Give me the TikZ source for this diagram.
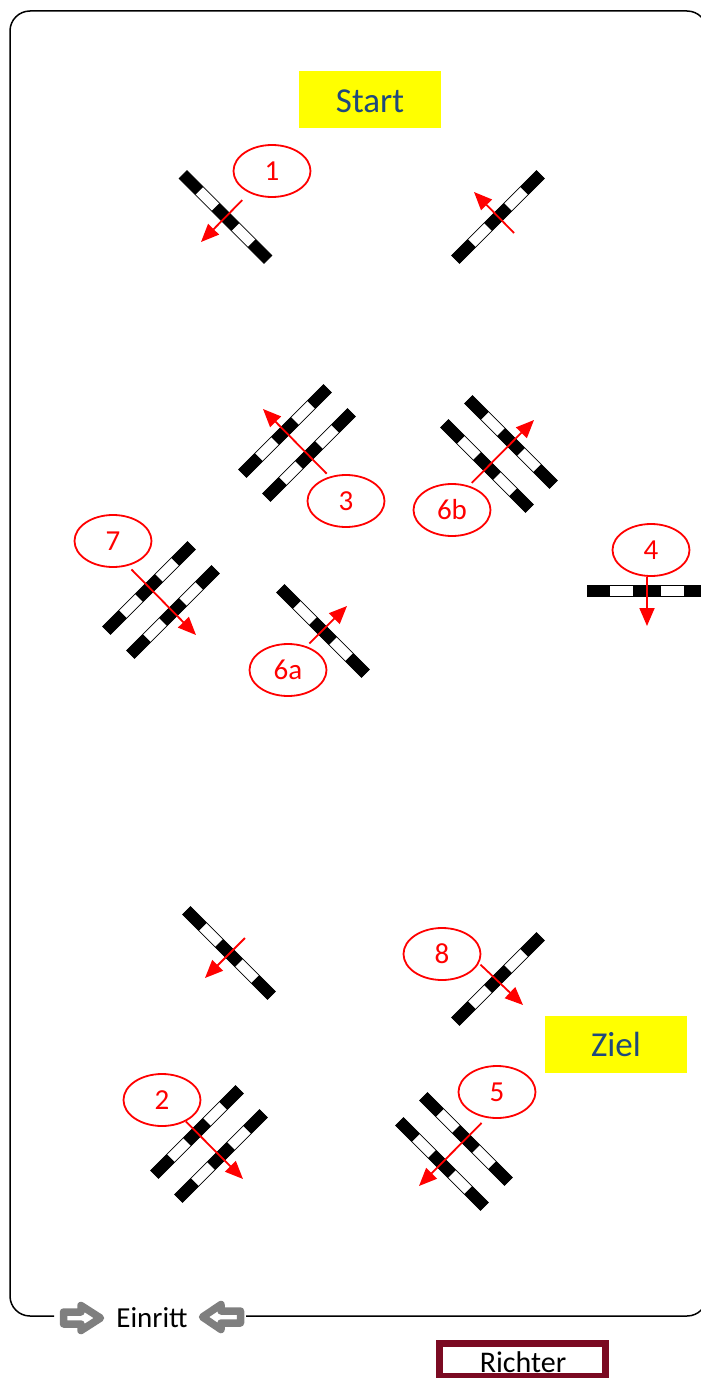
\documentclass[tikz,border=0pt]{standalone}
\usepackage{fontspec}
\setmainfont{Carlito}
\usetikzlibrary{shapes.geometric,arrows.meta}
\definecolor{titleblue}{HTML}{1F497D}
\definecolor{richterred}{HTML}{7B0A22}
\definecolor{arrowgrey}{HTML}{7F7F7F}
\definecolor{goalyellow}{RGB}{255,255,0}
\definecolor{markred}{RGB}{255,0,0}
\tikzset{
  num/.style={ellipse,draw=markred,line width=1.8pt,fill=white,minimum width=77pt,minimum height=52pt,inner sep=0pt,text=markred,font=\fontsize{29}{34}\selectfont},
  redarrow/.style={draw=markred,line width=1.8pt,-{Triangle[length=18pt,width=15pt]}},
  goal/.style={fill=goalyellow,minimum width=142pt,minimum height=57pt,inner sep=0pt,text=titleblue,font=\fontsize{35}{42}\selectfont},
  plain/.style={inner sep=0pt,font=\fontsize{29}{34}\selectfont,text=black},
  enclosure/.style={draw=black,line width=1.5pt,rounded corners=20pt},
  greyarrow/.style={draw=arrowgrey,fill=white,line width=7.5pt,line join=round},
  richterbox/.style={draw=richterred,fill=white,line width=6.5pt,minimum width=166pt,minimum height=33pt,inner sep=0pt}
}
% centre x, centre y (pixel coords), angle
\newcommand{\obstacle}[3]{%
  \begin{scope}[shift={(#1,#2)},rotate=#3]
    \fill[white] (-60pt,-5.5pt) rectangle (60pt,5.5pt);
    \draw[black,line width=.7pt] (-60pt,-5.5pt) rectangle (60pt,5.5pt);
    \fill[black] (-60pt,-5.5pt) rectangle (-37pt,5.5pt);
    \fill[black] (-14pt,-5.5pt) rectangle (14pt,5.5pt);
    \fill[black] (37pt,-5.5pt) rectangle (60pt,5.5pt);
  \end{scope}}
\begin{document}
\begin{tikzpicture}[x=1pt,y=-1pt]
\useasboundingbox (0,0) rectangle (701,1378);
\begin{scope}
\clip (0,0) rectangle (701,1378);
\coordinate (gapL) at (54,1316);
\coordinate (gapR) at (246,1316);
\draw[enclosure] (gapL) -- (10,1316) -- (10,11) -- (707,11) -- (707,1316) -- (gapR);

\node[goal] (start) at (370,99.5) {\rule{0pt}{26pt}Start};
\node[goal] (ziel) at (616,1044.5) {Ziel};

\obstacle{225.5}{217}{-45}
\obstacle{498}{217}{45}
\obstacle{285}{431}{45}
\obstacle{309}{455}{45}
\obstacle{487}{466}{-45}
\obstacle{511}{442}{-45}
\obstacle{149}{588}{45}
\obstacle{173}{612}{45}
\obstacle{323}{631}{-45}
\obstacle{647}{590.5}{0}
\obstacle{229}{953}{-45}
\obstacle{498}{979}{45}
\obstacle{197}{1132}{45}
\obstacle{221}{1156}{45}
\obstacle{466}{1139}{-45}
\obstacle{442}{1164}{-45}

\node[num] (n1) at (272,171) {1};
\node[num] (n3) at (346,501) {3};
\node[num] (n6b) at (452,510) {6b};
\node[num] (n7) at (113,541) {7};
\node[num] (n6a) at (288,670) {6a};
\node[num] (n4) at (651,550) {4};
\node[num] (n8) at (442,954) {8};
\node[num] (n2) at (162,1100) {2};
\node[num] (n5) at (497,1092) {5};

\coordinate (t1) at (201,242);
\coordinate (t3) at (263,409);
\coordinate (t6b) at (534,420);
\coordinate (t7) at (196,635);
\coordinate (t6a) at (347,606);
\coordinate (t4) at (647,626);
\coordinate (t8) at (523,1005);
\coordinate (t2) at (243,1179);
\coordinate (t5) at (419,1186);
\coordinate (s9) at (514,233);
\coordinate (t9) at (474,192);
\coordinate (s10) at (245,938);
\coordinate (t10) at (205,978);

\draw[redarrow,shorten <=10pt] (n1.224) -- (t1);
\draw[redarrow,shorten <=4pt] (n3.124) -- (t3);
\draw[redarrow,shorten <=4pt] (n6b.55) -- (t6b);
\draw[redarrow,shorten <=5pt] (n7.301) -- (t7);
\draw[redarrow,shorten <=4pt] (n6a.52) -- (t6a);
\draw[redarrow] (n4.south -| t4) -- (t4);
\draw[redarrow,shorten <=2pt] (n8.346) -- (t8);
\draw[redarrow] (n2.318) -- (t2);
\draw[redarrow,shorten <=7pt] (n5.248) -- (t5);
\draw[redarrow] (s9) -- (t9);
\draw[redarrow] (s10) -- (t10);

\node[plain] (einritt) at (152,1318) {Einritt};
\draw[greyarrow] (63.5,1312) -- (81,1312) -- (81,1305.5) -- (100.5,1318) -- (81,1330.5) -- (81,1324) -- (63.5,1324) -- cycle;
\draw[greyarrow] (240.5,1311) -- (221,1311) -- (221,1304.5) -- (202.5,1317) -- (221,1329.5) -- (221,1323) -- (240.5,1323) -- cycle;

\node[richterbox] (richter) at (522.5,1360) {};
\node[plain,font=\fontsize{30}{36}\selectfont] (richtertext) at (523,1362) {Richter};
\end{scope}
\end{tikzpicture}
\end{document}
